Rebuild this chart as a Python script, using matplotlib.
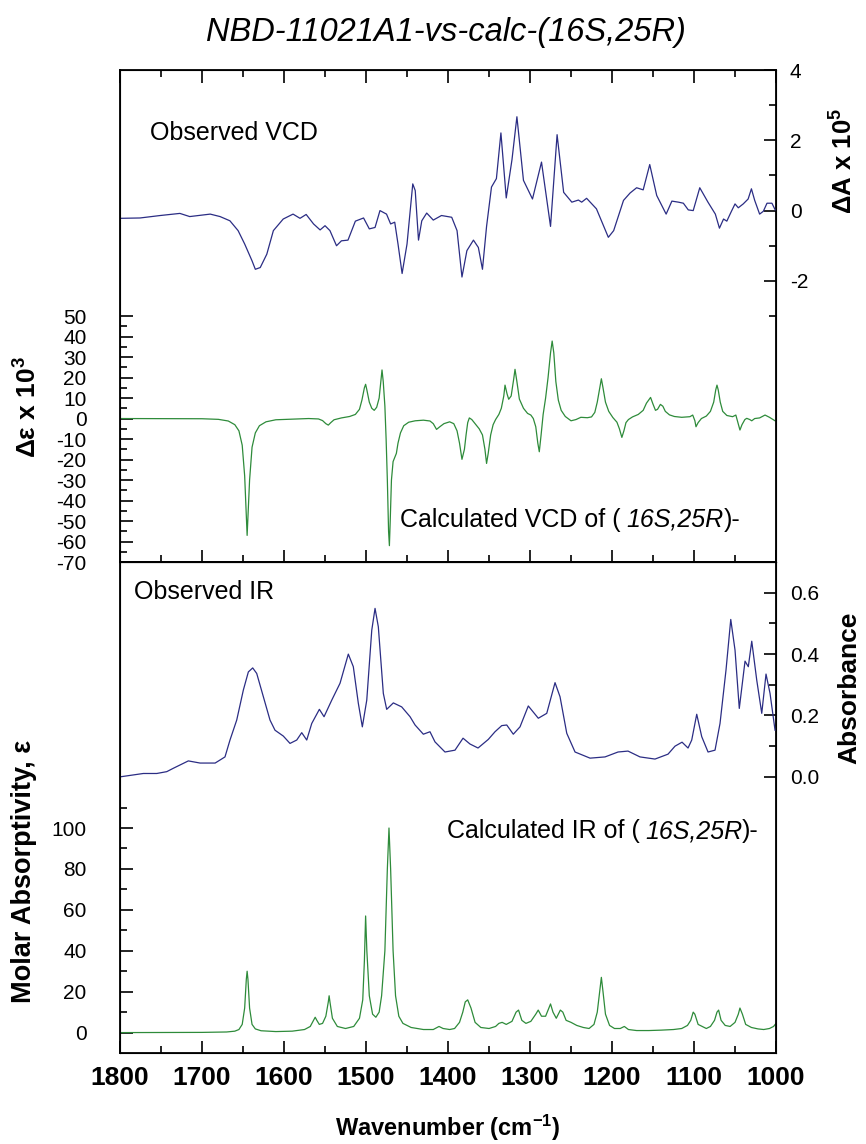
# VCD / IR comparison: observed vs calculated (16S,25R)
import numpy as np
import matplotlib
matplotlib.use("Agg")
import matplotlib.pyplot as plt
from matplotlib.ticker import MultipleLocator, FixedLocator

plt.rcParams['font.family'] = ['Liberation Sans', 'DejaVu Sans']
plt.rcParams['mathtext.fontset'] = 'custom'
plt.rcParams['mathtext.rm'] = 'Liberation Sans'
plt.rcParams['mathtext.it'] = 'Liberation Sans:italic'
plt.rcParams['mathtext.bf'] = 'Liberation Sans:bold'
plt.rcParams['axes.unicode_minus'] = False

# Observed VCD (dA x 1e5)
obs_vcd_wn = [1800, 1775.6, 1751, 1727, 1715, 1690, 1678, 1666, 1656, 1648, 1639, 1635, 1629, 1621,
              1613, 1601, 1589, 1580.5, 1573, 1564, 1556, 1550, 1544, 1536, 1530, 1522, 1513, 1503,
              1496, 1489, 1483, 1475, 1470, 1465, 1461, 1456, 1450, 1443, 1440, 1436, 1432, 1426,
              1418, 1408, 1395.5, 1389, 1383, 1377, 1369, 1363, 1358, 1353, 1347, 1341, 1335.5,
              1329, 1322, 1316, 1308, 1297, 1286, 1275, 1267, 1259, 1249, 1241, 1237, 1231, 1219,
              1204.5, 1198, 1186, 1178, 1170, 1162, 1154, 1145.5, 1134, 1127, 1119, 1113, 1107,
              1101, 1093, 1083, 1074, 1069, 1064, 1060, 1055, 1050, 1046, 1040, 1034, 1030, 1026,
              1020, 1015.5, 1011, 1005, 1001]
obs_vcd = [-0.22, -0.21, -0.14, -0.08, -0.17, -0.10, -0.17, -0.29, -0.57, -0.95, -1.43, -1.67, -1.62,
           -1.24, -0.57, -0.24, -0.10, -0.22, -0.11, -0.38, -0.55, -0.43, -0.57, -1.00, -0.86, -0.84,
           -0.30, -0.21, -0.52, -0.48, 0.00, -0.10, -0.38, -0.33, -0.95, -1.79, -0.95, 0.76, 0.57,
           -0.84, -0.29, -0.07, -0.27, -0.14, -0.19, -0.57, -1.89, -1.14, -0.84, -1.05, -1.67, -0.45,
           0.67, 0.91, 2.21, 0.36, 1.45, 2.67, 0.86, 0.33, 1.38, -0.45, 2.16, 0.52, 0.24, 0.30, 0.24,
           0.35, 0.05, -0.76, -0.57, 0.29, 0.50, 0.65, 0.59, 1.31, 0.43, -0.10, 0.27, 0.24, 0.21,
           0.02, 0.00, 0.65, 0.24, -0.10, -0.50, -0.24, -0.30, -0.05, 0.19, 0.08, 0.19, 0.33, 0.62,
           0.29, -0.10, -0.02, 0.21, 0.21, 0.02]

# Calculated VCD (de x 1e3)
calc_vcd_wn = [1800, 1700, 1680, 1668, 1660, 1655, 1651, 1648, 1646, 1645, 1644, 1642, 1639, 1635,
               1630, 1622, 1610, 1590, 1570, 1558, 1553, 1549, 1546, 1543, 1539, 1530, 1520, 1513,
               1508, 1505, 1502, 1500.5, 1499, 1496, 1493, 1490, 1487, 1484, 1482, 1480.5, 1479,
               1477, 1475.5, 1474, 1472.5, 1471.5, 1470.5, 1469, 1467, 1465, 1463, 1461, 1458, 1454,
               1448, 1440, 1430, 1422, 1418, 1414, 1410, 1405, 1398, 1393, 1389, 1386, 1383, 1380,
               1378, 1376, 1374, 1371, 1367, 1362, 1358, 1355, 1353, 1351, 1348, 1345, 1342, 1338,
               1335, 1332, 1330.5, 1328, 1326, 1323, 1320, 1318.3, 1316, 1313, 1308, 1303, 1299,
               1296, 1293, 1290.5, 1288.7, 1286.5, 1284, 1281, 1278, 1275, 1273, 1271, 1268.5,
               1265.5, 1262, 1257, 1250, 1244, 1238, 1230, 1225, 1221, 1218, 1215, 1213, 1211, 1208,
               1204, 1199, 1194, 1191, 1188, 1185.5, 1183, 1180, 1175, 1168, 1162, 1158, 1153, 1150,
               1147, 1144.5, 1141, 1138, 1135, 1130, 1124, 1115, 1105, 1101.6, 1099, 1097.6, 1095,
               1091, 1085, 1080, 1076, 1073.5, 1072, 1070.5, 1068, 1065, 1060, 1053, 1049, 1046.5,
               1044, 1041.5, 1038, 1035.7, 1032, 1029.6, 1026, 1020, 1013.4, 1008, 1001.2]
calc_vcd = [0, -0.1, -0.4, -1.2, -3, -6, -13, -28, -48, -57, -48, -30, -14, -7, -3.5, -1.6, -0.6, -0.3,
            0, -0.2, -1, -2.5, -3.2, -2, -0.6, 0.3, 1, 2, 4.5, 9, 15, 16.7, 14, 8, 5, 4, 5.5, 10, 18,
            23.7, 18, 6, -10, -30, -55, -62, -50, -30, -21, -19, -17, -12, -7, -3.5, -1.8, -1.1, -0.8,
            -1.2, -2.5, -5.3, -4, -2.5, -1.6, -2.5, -6, -12, -19.9, -15, -8, -2, 0.3, -0.5, -2.5, -5,
            -8, -15, -21.9, -17, -8, -3, -0.5, 2, 5, 11, 16.3, 12, 9.4, 11, 19, 24, 18, 9.5, 5, 2.5,
            1.7, 0, -4, -12, -16.2, -8, 2, 10, 20, 32, 37.8, 32, 18, 9, 4, 1, -1.1, -0.5, 0.6, 0.4,
            0.8, 3, 8, 15, 19.4, 15, 8, 3.5, 0.5, -1.8, -5, -9.2, -6, -2, -0.5, 0.8, 2, 4, 7.5, 10.3,
            7, 4, 4.5, 6.9, 6, 3.5, 1.8, 1, 0.6, 0.9, 1.7, -1, -4, -2, 0, 1.2, 3.5, 8, 14, 16.3, 14,
            8, 3.5, 1.5, 0.9, 1.7, -2, -5.6, -3, -0.5, 0.1, -0.5, -1.1, 0, 0.3, 1.7, 0.6, -1.1]

# Observed IR (absorbance)
obs_ir_wn = [1800, 1771.6, 1755.2, 1743, 1735, 1716.7, 1702.4, 1684, 1672, 1665.9, 1657.7, 1649.6,
             1643.5, 1638.2, 1633.3, 1625.2, 1617.1, 1611, 1600.9, 1592.7, 1584.5, 1578.4, 1572.3,
             1566.2, 1556.9, 1551.2, 1541.8, 1531.7, 1521.6, 1515.5, 1509.4, 1504.5, 1499.1, 1493,
             1489, 1485, 1478.9, 1474.8, 1466.7, 1456.5, 1446.3, 1440.2, 1430.1, 1422, 1415.9, 1403.7,
             1391.5, 1381.7, 1373.2, 1363.4, 1350.9, 1342.7, 1334.5, 1328.4, 1320.4, 1312.2, 1302.1,
             1289.9, 1279.6, 1269.5, 1263.4, 1255.2, 1245.1, 1226.8, 1208.5, 1192.7, 1180.5, 1165.9,
             1147.6, 1131.7, 1123.2, 1114.6, 1107.3, 1102.8, 1096.7, 1090.6, 1082.9, 1074.4, 1068.3,
             1061, 1055.2, 1050, 1044.8, 1037.8, 1033.8, 1029.6, 1023.5, 1017.4, 1012.2, 1007.3, 1001.2]
obs_ir = [0.0, 0.011, 0.011, 0.017, 0.028, 0.052, 0.045, 0.045, 0.065, 0.12, 0.185, 0.283, 0.342,
          0.355, 0.337, 0.261, 0.185, 0.152, 0.133, 0.109, 0.12, 0.144, 0.12, 0.174, 0.22, 0.196, 0.25,
          0.305, 0.40, 0.359, 0.24, 0.163, 0.25, 0.478, 0.549, 0.489, 0.272, 0.22, 0.241, 0.228, 0.196,
          0.169, 0.139, 0.147, 0.114, 0.081, 0.087, 0.126, 0.107, 0.094, 0.122, 0.147, 0.167, 0.169,
          0.139, 0.163, 0.231, 0.191, 0.207, 0.307, 0.261, 0.142, 0.081, 0.061, 0.065, 0.081, 0.084,
          0.065, 0.058, 0.074, 0.10, 0.113, 0.094, 0.12, 0.204, 0.131, 0.081, 0.087, 0.174, 0.348,
          0.513, 0.413, 0.223, 0.377, 0.359, 0.442, 0.315, 0.207, 0.335, 0.272, 0.152]

# Calculated IR (molar absorptivity)
calc_ir_wn = [1800, 1700, 1670, 1660, 1655, 1651, 1648, 1646, 1645, 1644, 1642, 1639, 1635, 1628, 1610,
              1590, 1575, 1568, 1564, 1562, 1560, 1557, 1553, 1549, 1546, 1545, 1544, 1541, 1535, 1525,
              1515, 1508, 1504, 1502, 1500.5, 1499, 1496, 1492, 1488, 1484, 1481, 1477, 1474, 1472,
              1470, 1467, 1464, 1460, 1455, 1445, 1430, 1418, 1411, 1406, 1398, 1392, 1386, 1382, 1379,
              1376, 1372, 1367, 1360, 1350, 1342, 1338, 1334, 1329, 1322, 1317, 1314, 1310, 1305, 1299,
              1293, 1290, 1286, 1281, 1277, 1275, 1272, 1268, 1263, 1260, 1256, 1250, 1243, 1235, 1228,
              1222, 1218, 1215, 1213, 1211, 1208, 1203, 1197, 1190, 1185, 1180, 1170, 1155, 1140, 1125,
              1115, 1108, 1104, 1101, 1099, 1095, 1090, 1085, 1080, 1075, 1072, 1070, 1067, 1062, 1056,
              1050, 1046, 1044, 1041, 1037, 1030, 1022, 1015, 1008, 1003, 1000]
calc_ir = [0, 0.1, 0.3, 0.7, 1.5, 4, 12, 26, 30, 26, 12, 4, 1.8, 0.9, 0.5, 0.7, 1.5, 3, 6, 7.5, 6, 4,
           4.5, 8, 15, 18, 15, 7, 3, 2, 3, 7, 16, 35, 57, 40, 18, 9, 7.5, 10, 18, 40, 80, 100, 80, 40,
           18, 8, 4.5, 2.5, 1.5, 1.5, 3, 2, 1.5, 2, 5, 10, 15, 16, 12, 5, 2.5, 2, 3, 4.5, 5, 4, 5.5,
           10, 11, 6, 4.5, 5.5, 9, 11, 8, 8, 12, 14, 10, 7, 11, 10, 6, 5, 3.5, 2.5, 2, 4, 10, 20, 27,
           20, 9, 3.5, 2, 2, 3, 1.5, 1, 1, 1.2, 1.5, 2, 3.5, 6, 10, 9, 4, 3, 2, 3, 6, 10, 11, 6, 3.5,
           3, 5, 9, 12, 9, 4, 2.5, 1.8, 1.5, 2, 3, 4.5]

blue = '#2b2d84'
green = '#2e8b3a'

fig = plt.figure(figsize=(8.66, 11.44), dpi=100)
ax_top = fig.add_axes([0.1386, 0.5087, 0.7575, 0.4301])
ax_bot = fig.add_axes([0.1386, 0.0795, 0.7575, 0.4292])

for ax in (ax_top, ax_bot):
    ax.set_xlim(1800, 1000)
    ax.xaxis.set_major_locator(MultipleLocator(100))
    ax.xaxis.set_minor_locator(MultipleLocator(50))
    for sp in ax.spines.values():
        sp.set_linewidth(1.3)


def label_with_italic(ax, x, y, before, ital, after):
    t1 = ax.text(x, y, before, transform=ax.transAxes, fontsize=18, va='bottom')
    t2 = ax.annotate(ital, xy=(1, 0), xycoords=t1, xytext=(4, 0), textcoords='offset points',
                     fontsize=18, va='bottom', style='italic')
    ax.annotate(after, xy=(1, 0), xycoords=t2, fontsize=18, va='bottom')


# ---- top panel ----
ax_top.plot(calc_vcd_wn, calc_vcd, color=green, lw=0.9)
ax_top.set_ylim(-70, 170)
ax_top.yaxis.set_major_locator(FixedLocator(np.arange(-70, 51, 10)))
ax_top.yaxis.set_minor_locator(FixedLocator(np.arange(-65, 51, 10)))
ax_top.tick_params(axis='both', which='both', direction='in', top=True, right=True, width=1.2)
ax_top.tick_params(which='major', length=9)
ax_top.tick_params(which='minor', length=5)
ax_top.tick_params(axis='x', labelbottom=False)
ax_top.tick_params(axis='y', labelsize=15, pad=24)
ax_top.set_ylabel('\u0394\u03b5 x 10$^\\mathbf{3}$', fontsize=19, fontweight='bold')
ax_top.yaxis.set_label_coords(-0.119, 0.315)

ax_topr = ax_top.twinx()
ax_topr.plot(obs_vcd_wn, obs_vcd, color=blue, lw=0.9)
ax_topr.set_ylim(-10, 4)
ax_topr.yaxis.set_major_locator(FixedLocator([-2, 0, 2, 4]))
ax_topr.yaxis.set_minor_locator(FixedLocator([-3, -1, 1, 3]))
ax_topr.tick_params(axis='y', which='both', direction='in', width=1.2, labelsize=15, pad=10)
ax_topr.tick_params(which='major', length=9)
ax_topr.tick_params(which='minor', length=5)
ax_topr.set_ylabel('\u0394A x 10$^\\mathbf{5}$', fontsize=18.5, fontweight='bold', rotation=90)
ax_topr.yaxis.set_label_coords(1.083, 0.815)

ax_top.text(0.046, 0.872, 'Observed VCD', transform=ax_top.transAxes, fontsize=18, va='center')
label_with_italic(ax_top, 0.427, 0.062, 'Calculated VCD of (', '16S,25R', ')-')

# ---- bottom panel ----
ax_bot.plot(calc_ir_wn, calc_ir, color=green, lw=0.9)
ax_bot.set_ylim(-10, 230)
ax_bot.yaxis.set_major_locator(FixedLocator(np.arange(0, 101, 20)))
ax_bot.yaxis.set_minor_locator(FixedLocator(np.arange(10, 111, 20)))
ax_bot.tick_params(axis='both', which='both', direction='in', width=1.2)
ax_bot.tick_params(which='major', length=9)
ax_bot.tick_params(which='minor', length=5)
ax_bot.tick_params(axis='y', labelsize=15, pad=24)
ax_bot.tick_params(axis='x', pad=9)
for lab in ax_bot.get_xticklabels():
    lab.set_fontweight('bold')
    lab.set_fontsize(19)
ax_bot.set_ylabel('Molar Absorptivity, \u03b5', fontsize=19.5, fontweight='bold')
ax_bot.yaxis.set_label_coords(-0.1265, 0.369)
ax_bot.set_xlabel(r'Wavenumber (cm$^{\mathbf{-1}}$)', fontsize=17, fontweight='bold', labelpad=17)

ax_botr = ax_bot.twinx()
ax_botr.plot(obs_ir_wn, obs_ir, color=blue, lw=0.9)
ax_botr.set_ylim(-0.9, 0.7)
ax_botr.yaxis.set_major_locator(FixedLocator([0.0, 0.2, 0.4, 0.6]))
ax_botr.yaxis.set_minor_locator(FixedLocator([0.1, 0.3, 0.5]))
ax_botr.yaxis.set_major_formatter(plt.FormatStrFormatter('%.1f'))
ax_botr.tick_params(axis='y', which='both', direction='in', width=1.2, labelsize=15, pad=10)
ax_botr.tick_params(which='major', length=9)
ax_botr.tick_params(which='minor', length=5)
ax_botr.set_ylabel('Absorbance', fontsize=19, fontweight='bold', rotation=90)
ax_botr.yaxis.set_label_coords(1.094, 0.743)

ax_bot.text(0.021, 0.939, 'Observed IR', transform=ax_bot.transAxes, fontsize=18, va='center')
label_with_italic(ax_bot, 0.498, 0.427, 'Calculated IR of (', '16S,25R', ')-')

fig.text(0.515, 0.972, 'NBD-11021A1-vs-calc-(16S,25R)', ha='center', va='center', fontsize=23.5,
         style='italic')

fig.savefig('out.png', dpi=100)
